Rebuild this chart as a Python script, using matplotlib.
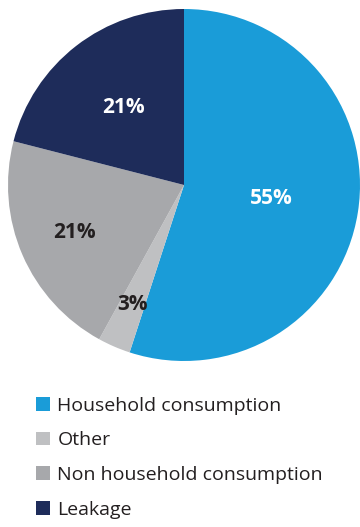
import numpy as np
import matplotlib.pyplot as plt

plt.rcParams['font.family'] = ['Open Sans', 'DejaVu Sans']

categories = ['Household consumption', 'Other', 'Non household consumption', 'Leakage']
shares = [55, 3, 21, 21]
colors = ['#1a9cd8', '#bfc0c2', '#a7a8ab', '#1e2c5a']
label_colors = ['white', '#231f20', '#231f20', 'white']
# how far out each percentage sits, as a fraction of the radius
label_radius = [0.50, 0.74, 0.68, 0.56]

fig = plt.figure(figsize=(3.6, 5.27), dpi=100)
W, H = 360, 527
cx, cy, r = 184, 185, 176
ax = fig.add_axes([(cx - r) / W, (H - cy - r) / H, 2 * r / W, 2 * r / H])

wedges, _ = ax.pie(shares, colors=colors, startangle=90, counterclock=False,
                   radius=1, wedgeprops=dict(linewidth=0))
ax.set_xlim(-1, 1)
ax.set_ylim(-1, 1)
ax.set_aspect('equal')
ax.axis('off')

for w, val, c, d in zip(wedges, shares, label_colors, label_radius):
    ang = np.deg2rad((w.theta1 + w.theta2) / 2)
    ax.text(d * np.cos(ang), d * np.sin(ang), f'{val}%', color=c,
            fontsize=15, fontweight='bold', ha='center', va='center')

leg = fig.legend(wedges, categories, loc='upper left',
                 bbox_to_anchor=(22 / W, 1 - 383 / H), frameon=False,
                 fontsize=14, handlelength=0.72, handleheight=0.72,
                 handletextpad=0.4, labelspacing=0.86, borderpad=0.2)
for t in leg.get_texts():
    t.set_color('#231f20')

fig.savefig('out.png', dpi=100)
